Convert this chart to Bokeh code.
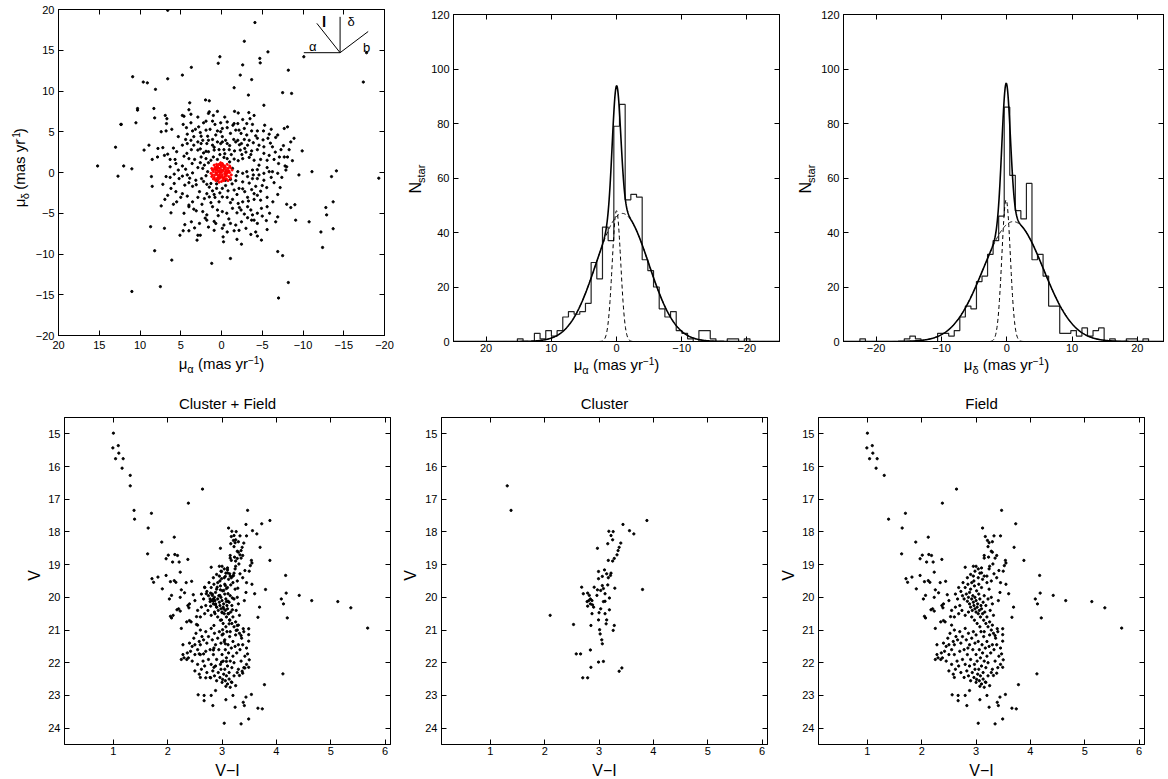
import numpy as np
from bokeh.plotting import figure
from bokeh.models import Range1d, LinearAxis, FixedTicker, Label, CustomJSTickFormatter
from bokeh.layouts import row, column
from bokeh.embed import file_html
from bokeh.resources import INLINE
from bokeh.core.properties import value

FONT = "Liberation Sans"

# ---------------- Vector point diagram (mu_alpha, mu_delta) ----------------
vpd_field = [
    (6.6, 19.9), (-4.1, 18.4), (-2.8, 16.1), (-5.7, 14.8), (0.2, 14.2), (-4.7, 14.0), (-10.1, 14.2),
    (-17.8, 14.7), (-17.4, 11.1), (15.2, 0.8), (13.0, 3.1), (12.7, -0.45), (12.3, 5.9), (-14.1, 0.2),
    (-13.5, -0.5), (-13.7, -3.6), (-13.7, -6.9), (-19.3, -0.7), (-7.0, -15.4), (11.0, -14.6),
    (3.7, 12.9), (0.4, 13.4), (-2.6, 13.2), (-4.75, 13.45), (4.8, 11.95), (6.6, 11.5), (10.9, 11.75),
    (9.6, 11.1), (9.1, 11.0), (-2.3, 11.95), (-3.7, 11.4), (-8.2, 12.55),
    (8.1, 10.2), (-1.55, 10.4), (-3.3, 9.5), (-7.5, 9.8), (-8.6, 9.7), (3.9, 8.55), (1.96, 8.9),
    (1.5, 8.8), (-5.2, 8.25),
    (10.3, 7.85), (10.3, 7.65), (8.3, 7.85), (4.0, 7.7), (1.5, 7.45), (0.5, 7.5), (-1.6, 7.5),
    (-2.05, 7.3), (-3.35, 7.35), (-4.0, 7.0), (6.9, 7.0), (6.7, 6.6), (4.8, 7.0), (4.6, 6.9),
    (3.75, 7.15), (2.9, 6.8), (1.6, 7.25),
    (8.2, 6.7), (6.75, 6.0), (4.7, 5.9), (3.75, 6.1), (2.8, 5.6), (1.9, 6.3), (1.1, 6.3), (0.8, 5.9),
    (0.1, 6.1), (-0.7, 6.2), (-1.55, 6.0), (-2.0, 6.0), (-3.1, 6.0), (-3.8, 5.9), (10.5, 6.1), (12.35, 5.9),
    (7.4, 5.0), (6.8, 5.1), (6.1, 5.3), (4.2, 4.7), (3.55, 5.1), (2.6, 4.9), (1.9, 5.2), (1.4, 5.3),
    (0.5, 5.1), (-0.1, 5.4), (-0.7, 5.5), (-1.75, 5.2), (-2.15, 5.2), (-2.8, 5.4), (-3.7, 5.1),
    (-4.4, 5.1), (-5.15, 5.1), (-5.85, 4.7), (-6.1, 5.3), (-7.7, 5.4), (-8.1, 5.6), (2.5, 4.45),
    (1.7, 4.45), (0.7, 4.6), (0.1, 5.0), (-1.1, 4.8), (-2.4, 4.8), (-3.1, 4.6),
    (-8.9, 4.2), (-6.65, 4.3), (-5.7, 4.2), (-4.4, 4.2), (-3.4, 3.95), (-2.8, 4.05), (-2.0, 3.95),
    (-1.5, 4.05), (-0.5, 3.95), (-0.1, 3.75), (0.5, 3.75), (1.1, 4.05), (1.6, 3.95), (2.3, 3.95),
    (2.9, 3.75), (3.75, 3.95), (4.4, 4.05), (4.8, 3.35), (4.2, 3.55), (3.4, 3.35), (2.5, 3.55),
    (1.8, 3.55), (1.1, 3.35), (0.1, 3.55), (-0.7, 3.55), (-1.75, 3.75), (-2.45, 3.55), (-3.2, 3.35),
    (-3.9, 3.65), (-4.6, 3.35), (-5.2, 3.15), (-6.25, 3.15), (-8.5, 3.75), (7.8, 2.95), (7.2, 3.05),
    (8.9, 3.35), (9.5, 2.75),
    (-8.3, 2.8), (-7.3, 2.8), (-7.1, 1.9), (-5.85, 2.1), (-5.2, 2.35), (-4.4, 2.8), (-3.7, 2.65),
    (-2.85, 2.95), (-2.3, 2.75), (-1.6, 2.65), (-0.95, 2.8), (-0.3, 2.8), (0.3, 2.8), (0.9, 2.75),
    (1.6, 2.55), (2.2, 2.4), (2.9, 2.75), (3.7, 2.8), (4.25, 2.35), (4.6, 2.0), (5.5, 2.55), (7.0, 2.1),
    (6.6, 2.25), (8.5, 1.6), (-9.9, 2.65), (-8.1, 1.9), (-7.7, 1.9), (-8.7, 1.45),
    (-6.45, 1.6), (-5.6, 1.5), (-4.8, 1.6), (-4.0, 1.5), (-3.4, 1.85), (-2.6, 1.7), (-2.05, 1.45),
    (-1.55, 1.65), (-0.7, 1.7), (-0.3, 1.85), (0.5, 1.6), (1.3, 1.5), (1.9, 1.7), (2.5, 1.9), (3.3, 1.6),
    (4.0, 1.7), (4.8, 0.8), (5.7, 1.6), (5.6, 1.1), (6.3, 0.7), (7.85, 1.9), (12.0, 0.8), (11.0, 0.45),
    (-8.0, 0.7), (-7.8, 0.8),
    (-5.85, 0.1), (-5.2, -0.1), (-4.6, -0.3), (-4.4, 0.35), (-3.8, 0.3), (-3.1, 0.1), (-2.6, -0.1),
    (-2.0, 0.1), (-1.35, 0.5), (1.7, 0.1), (2.3, 0.5), (2.9, 0.6), (3.55, -0.05), (4.2, -0.3),
    (4.8, -0.45), (5.8, -0.2), (6.3, -0.6), (8.6, -0.5), (-6.25, 0.1), (-6.9, -0.1), (-11.1, 0.1),
    (-9.5, -0.3),
    (-5.2, -0.95), (-4.4, -0.75), (-3.8, -0.75), (-3.2, -0.5), (-2.6, -1.15), (-1.75, -1.0),
    (-1.1, -0.85), (-0.5, -0.95), (0.5, -0.95), (1.3, -1.35), (1.8, -1.45), (2.45, -0.75), (3.15, -0.95),
    (4.0, -1.25), (4.5, -1.55), (5.2, -0.75), (5.8, -1.35), (7.2, -1.45), (8.5, -1.7), (-6.45, -1.25),
    (-7.2, -1.85),
    (-5.55, -1.85), (-4.8, -2.3), (-4.2, -1.7), (-3.7, -2.1), (-2.85, -2.35), (-2.15, -1.95),
    (-1.55, -2.15), (-0.8, -2.25), (-0.1, -1.95), (0.6, -1.95), (1.1, -2.25), (1.8, -2.6), (2.7, -2.35),
    (3.55, -1.7), (4.2, -2.9), (4.8, -2.6), (5.6, -2.35), (6.2, -1.95), (6.95, -3.3), (7.4, -4.1),
    (-4.4, -2.8),
    (-5.6, -3.05), (-4.8, -3.4), (-4.0, -3.3), (-3.2, -3.05), (-2.6, -3.6), (-2.05, -3.8), (-1.35, -3.3),
    (-0.7, -3.05), (-0.1, -3.0), (0.8, -3.05), (1.5, -3.0), (2.1, -3.2), (2.9, -3.05), (3.55, -3.6),
    (4.0, -4.0), (5.0, -3.05), (5.5, -3.6), (-5.6, -4.2), (-8.0, -3.9), (-8.5, -4.3), (-9.0, -3.95),
    (-6.9, -5.45), (-5.0, -5.35), (-4.4, -5.0), (-3.8, -5.2), (-3.2, -4.2), (-2.4, -4.6), (-1.9, -4.95),
    (-1.35, -4.4), (-0.65, -5.0), (-0.1, -4.8), (0.5, -4.6), (1.1, -4.2), (1.8, -5.2), (2.3, -4.8),
    (3.4, -4.5), (4.0, -4.2), (6.2, -4.95), (-12.8, -4.3), (-12.9, -5.2),
    (-6.65, -6.05), (-4.4, -6.25), (-4.0, -5.85), (-3.2, -5.55), (-2.45, -6.05), (-1.75, -6.45),
    (-1.1, -6.25), (-0.3, -6.45), (0.7, -6.25), (0.9, -6.0), (1.8, -5.85), (2.7, -6.25), (3.7, -6.05),
    (8.7, -6.65), (7.0, -6.85), (-9.1, -5.85), (-10.75, -6.05), (-3.7, -5.85),
    (-4.2, -7.3), (-3.0, -6.85), (-2.15, -7.1), (-1.55, -7.15), (-0.7, -7.3), (-0.1, -6.85), (0.9, -7.1),
    (2.9, -7.7), (4.0, -7.15), (4.7, -7.15), (5.1, -7.7), (2.6, -7.7), (-12.2, -7.3),
    (-4.9, -8.3), (-4.4, -7.8), (-2.45, -8.8), (-0.25, -8.5), (3.0, -8.3), (8.2, -9.6), (-6.9, -9.7),
    (-7.5, -10.2), (-12.4, -9.2),
    (6.1, -10.75), (1.2, -11.15), (-1.1, -10.55), (-8.2, -13.5), (7.5, -14.0),
    (-0.4, 2.3), (0.2, 2.2), (1.0, 1.9), (1.6, 1.2), (2.1, 0.9), (2.6, 1.2), (3.6, 1.1), (4.4, 0.4),
    (3.9, -0.7), (3.1, -1.5), (2.2, -1.1), (1.5, -1.8), (0.9, -2.7), (0.2, -2.5), (-0.5, -1.6),
    (-1.3, -1.4), (-1.9, -2.7), (-2.6, -2.0), (-3.4, -1.3), (-3.9, -0.3), (-4.6, 0.9), (-3.6, 2.2),
    (-2.5, 2.2), (-1.2, 2.2), (-1.0, 3.3), (-2.2, 3.4), (-3.0, 2.5), (-4.2, 4.5), (-5.1, 4.0),
    (-6.0, 3.6), (-6.6, 2.5), (-5.6, 0.6), (-6.1, -0.6), (-5.0, -1.6), (-4.0, -2.6), (-3.3, -3.5),
    (-2.2, -4.3), (-1.1, -3.7), (0.3, -3.6), (1.3, -3.7), (2.4, -3.9), (3.1, -4.7), (2.0, -5.6),
    (0.4, -5.3), (-0.9, -5.7), (-2.8, -5.1), (-3.6, -4.6), (-4.9, -4.4), (-5.9, -5.0), (-6.3, -3.6),
    (-6.9, -2.7), (-7.4, -0.6), (-7.9, 0.3), (-7.0, 1.1), (-7.6, 3.3), (-6.9, 4.6), (-5.3, 5.8),
    (-3.5, 6.6), (-2.6, 6.5), (-0.4, 6.8), (1.0, 7.0), (2.2, 6.1), (3.2, 5.3), (4.3, 5.5), (5.3, 4.4),
    (5.9, 3.0), (6.3, 1.6), (5.3, 0.3), (6.8, -0.5), (6.6, -2.8), (5.9, -3.9), (4.6, -5.0), (4.5, -6.4),
    (3.3, -6.8), (1.6, -6.7), (-0.2, -7.9), (-1.9, -8.2), (-3.6, -7.6), (-5.6, -7.0), (-5.5, -5.9),
    (0.9, 3.1), (1.9, 2.6), (2.6, 2.9), (3.4, 4.4), (-0.1, 4.4), (-1.4, 5.8), (0.6, -1.4), (-1.0, 1.3),
    (1.9, -0.4), (-1.8, -0.4),
]
vpd_cluster = [
    (0.0, 0.0), (0.3, 0.2), (-0.3, 0.4), (0.5, -0.3), (-0.5, -0.2), (0.8, 0.6), (-0.8, 0.5), (0.2, -0.7),
    (-0.2, 0.9), (0.6, 1.0), (-0.6, -0.8), (1.0, 0.1), (-1.0, 0.0), (0.9, -0.6), (-0.9, -0.5), (0.4, 0.6),
    (-0.4, -0.5), (0.1, 1.2), (0.0, -1.1), (0.7, -1.0), (-0.7, 1.0), (1.2, 0.5), (-1.1, 0.6), (1.1, -0.3),
    (-1.2, -0.3), (0.3, -1.2), (-0.3, -1.0), (0.5, 0.3), (-0.5, 0.1), (0.2, 0.5), (-0.1, -0.3), (0.6, -0.1),
    (-0.6, 0.3), (0.4, -0.6), (-0.2, 0.2), (0.9, 0.9), (-0.8, -1.0), (1.3, -0.1), (0.0, 0.7), (0.2, -0.2),
    (-0.4, 0.8), (0.7, 0.3), (-0.9, 0.2), (0.5, 0.8), (-0.3, -0.7), (0.1, -0.5), (0.8, -0.3), (-0.6, -0.4),
    (0.3, 1.0), (-0.1, 1.1), (1.0, -0.8), (-1.0, 0.8), (0.6, 0.5), (-0.2, -0.9), (0.4, -0.9), (-0.7, -0.1),
    (1.1, 0.3), (-1.1, -0.7), (0.0, 0.3), (0.3, -0.4), (-0.5, 0.6), (0.7, 0.0), (0.9, 0.4), (-0.4, -0.1),
    (0.1, 0.9), (0.5, -0.7), (-0.8, 0.1), (0.2, 0.1), (-0.1, -0.6), (0.6, 0.7), (-0.3, 0.6), (0.8, -0.8),
    (1.2, -0.5), (-1.3, 0.3), (0.4, 0.1),
]
# orientation sketch (galactic l, b and equatorial alpha, delta directions)
compass_origin = (-14.55, 14.7)
compass_end_ra = [-10.1, -14.55, -11.7, -18.0]
compass_end_dec = [14.7, 19.1, 18.3, 17.3]
compass_text = ["α", "δ", "b"]
compass_text_ra = [-11.2, -15.9, -17.8]
compass_text_dec = [15.5, 18.5, 15.3]
compass_l_pos = (-12.6, 18.5)

# ---------------- Histograms ----------------
mua_edges = [-20.47, -19.60, -18.73, -17.86, -16.99, -16.12, -15.25, -14.38, -13.51, -12.64, -11.77,
             -10.90, -10.03, -9.16, -8.29, -7.42, -6.55, -5.68, -4.81, -3.94, -3.07, -2.20, -1.33, -0.46,
             0.41, 1.28, 2.15, 3.02, 3.89, 4.76, 5.63, 6.50, 7.37, 8.24, 9.11, 9.98, 10.85, 11.72, 12.59,
             13.46, 14.33, 15.20]
mua_counts = [1, 0, 1, 1, 0, 0, 1, 4, 4, 0, 1, 3, 4, 11, 9, 12, 20, 26, 30, 53, 54, 52, 87, 79, 37, 42,
              23, 29, 14, 11, 10, 11, 9, 4, 2, 4, 1, 3, 0, 0, 1]
mud_edges = [-22.49, -21.64, -20.79, -19.94, -19.09, -18.24, -17.39, -16.54, -15.69, -14.84, -13.99,
             -13.14, -12.29, -11.44, -10.59, -9.74, -8.89, -8.04, -7.19, -6.34, -5.49, -4.64, -3.79, -2.94,
             -2.09, -1.24, -0.39, 0.46, 1.31, 2.16, 3.01, 3.86, 4.71, 5.56, 6.41, 7.26, 8.11, 8.96, 9.81,
             10.66, 11.51, 12.36, 13.21, 14.06, 14.91, 15.76, 16.61, 17.46, 18.31, 19.16, 20.01, 20.86, 21.71]
mud_counts = [1, 0, 0, 0, 0, 0, 0, 0, 1, 2, 1, 0, 0, 0, 3, 3, 2, 4, 9, 13, 12, 22, 24, 32, 37, 46, 86,
              61, 48, 45, 58, 30, 32, 24, 13, 13, 3, 3, 4, 2, 5, 2, 4, 5, 0, 1, 0, 0, 1, 1, 0, 1]
# two-Gaussian fits: (amplitude, centre, sigma)
mua_fit_cluster = (48.0, 0.0, 0.65)
mua_fit_field = (47.0, -0.9, 4.05)
mud_fit_cluster = (52.0, -0.1, 0.65)
mud_fit_field = (44.0, 1.0, 4.6)

# ---------------- Colour-magnitude diagrams (V-I, V) ----------------
cmd_field = [
    (1.00, 14.98), (0.99, 15.43), (1.09, 15.36), (1.10, 15.59), (1.04, 15.76), (1.18, 15.76), (1.16, 16.05),
    (1.31, 16.27), (2.64, 16.69), (2.38, 17.12), (3.47, 17.34), (1.70, 17.43), (1.39, 17.61), (1.64, 17.88),
    (3.12, 17.88), (3.73, 17.75), (3.17, 18.14), (3.33, 18.12), (3.45, 18.12), (2.12, 18.16), (3.21, 18.26),
    (3.24, 18.33), (1.89, 18.31), (3.70, 18.47), (3.28, 18.59), (3.30, 18.62), (1.63, 18.67), (2.01, 18.71),
    (2.13, 18.69), (2.18, 18.72), (3.15, 18.72), (3.23, 18.77), (3.38, 18.72), (2.37, 18.84), (1.97, 18.82),
    (2.09, 18.92), (2.21, 18.92), (3.54, 18.87), (3.88, 18.87), (3.52, 19.03), (2.23, 19.23), (2.80, 19.08),
    (2.95, 19.05), (3.04, 19.13), (3.07, 19.26), (3.24, 19.13), (3.31, 18.98), (3.42, 19.18), (3.33, 19.28),
    (1.71, 19.43), (1.74, 19.54), (1.82, 19.38), (1.97, 19.33), (2.05, 19.52), (2.12, 19.49), (2.15, 19.54),
    (2.34, 19.55), (2.44, 19.51), (1.90, 19.74), (2.03, 20.05), (2.07, 19.94), (2.23, 20.0), (2.25, 19.77),
    (2.31, 19.86), (2.47, 19.92), (2.50, 20.1), (2.37, 20.25), (2.39, 20.32), (2.17, 20.38), (2.23, 20.42),
    (2.07, 20.63), (2.40, 20.71), (2.53, 20.59),
    (3.44, 19.85), (3.60, 19.89), (3.41, 20.1), (3.66, 20.61), (3.69, 20.3), (4.09, 20.05), (4.13, 20.2),
    (4.17, 19.33), (4.18, 19.87), (4.20, 20.63), (4.42, 19.94), (4.65, 20.1), (5.13, 20.13), (5.37, 20.32),
    (5.68, 20.94), (4.12, 22.34), (3.78, 22.67),
    (3.54, 22.97), (3.44, 23.05), (3.39, 23.21), (3.41, 23.31), (3.66, 23.39), (3.74, 23.41), (3.49, 23.72),
    (3.35, 23.87), (3.04, 23.85), (2.83, 23.31), (2.80, 23.0), (2.67, 23.0), (2.56, 22.98), (2.67, 23.16),
    (2.88, 22.85), (3.20, 23.0), (3.07, 23.13), (3.24, 23.36), (3.07, 22.72), (3.01, 22.51), (3.17, 22.59),
    (3.32, 22.39), (3.38, 22.32), (3.49, 22.14), (3.50, 21.91), (3.47, 21.73), (3.49, 21.34), (3.49, 21.14),
    (3.49, 20.96), (3.39, 20.96), (3.35, 21.17),
    (2.72, 19.82), (2.75, 19.95), (2.78, 20.05), (2.80, 19.7), (2.82, 19.9), (2.84, 20.12), (2.85, 19.6),
    (2.86, 20.0), (2.88, 20.2), (2.88, 19.85), (2.90, 20.3), (2.90, 19.75), (2.92, 20.05), (2.93, 20.4),
    (2.94, 19.95), (2.95, 20.15), (2.96, 20.25), (2.97, 19.65), (2.98, 20.35), (2.98, 20.0), (3.00, 20.1),
    (3.00, 20.45), (3.01, 19.8), (3.02, 20.3), (3.03, 20.2), (3.04, 20.5), (3.05, 19.9), (3.06, 20.4),
    (3.07, 20.05), (3.08, 20.6), (3.09, 20.25), (3.10, 19.7), (3.10, 20.35), (3.12, 20.5), (3.13, 20.15),
    (3.14, 20.7), (3.15, 19.95), (3.16, 20.45), (3.18, 20.8), (3.18, 20.25), (3.20, 20.6), (3.22, 20.9),
    (3.22, 20.05), (3.25, 20.75), (3.26, 20.4), (2.92, 19.55), (2.96, 19.5), (3.05, 19.6), (3.12, 19.45),
    (2.70, 20.25), (2.74, 20.4), (2.80, 20.55), (2.86, 20.45), (2.92, 20.6), (2.97, 20.7), (3.02, 20.8),
    (3.07, 20.9), (2.66, 20.05), (2.62, 19.9), (2.68, 19.7), (2.76, 19.55), (2.84, 19.4), (2.90, 19.3),
    (2.98, 19.2), (3.04, 19.4), (3.10, 19.25), (3.15, 19.35), (3.20, 19.55), (3.24, 19.75), (3.28, 20.0),
    (3.30, 20.2), (3.32, 20.55), (3.30, 20.85), (3.28, 21.0),
    (2.55, 20.85), (2.60, 21.0), (2.63, 21.2), (2.58, 21.35), (2.52, 21.1), (2.48, 21.25), (2.45, 21.5),
    (2.42, 21.65), (2.38, 21.85), (2.35, 21.9), (2.45, 21.95), (2.50, 21.75), (2.55, 21.6), (2.60, 21.45),
    (2.66, 21.3), (2.70, 21.05), (2.72, 21.4), (2.75, 21.2), (2.78, 21.6), (2.80, 20.95), (2.82, 21.3),
    (2.84, 21.75), (2.86, 21.1), (2.88, 21.45), (2.90, 21.9), (2.92, 21.25), (2.94, 21.6), (2.95, 21.05),
    (2.97, 22.05), (2.98, 21.4), (3.00, 21.75), (3.00, 21.15), (3.02, 21.95), (3.04, 21.35), (3.05, 22.2),
    (3.06, 21.6), (3.08, 21.85), (3.09, 21.05), (3.10, 22.1), (3.11, 21.45), (3.12, 21.7), (3.13, 22.3),
    (3.14, 21.2), (3.15, 21.95), (3.17, 21.55), (3.18, 22.15), (3.20, 21.35), (3.20, 21.8), (3.22, 22.0),
    (3.24, 21.5), (3.25, 21.15), (3.27, 21.7), (3.30, 21.45), (3.33, 21.6), (3.36, 21.25), (3.38, 21.45),
    (3.40, 21.05), (3.42, 21.8), (3.45, 21.55), (3.35, 21.95), (3.40, 22.15), (3.45, 22.05), (2.60, 21.75),
    (2.65, 21.95), (2.62, 22.2), (2.58, 22.35), (2.60, 22.45), (2.68, 22.1), (2.72, 22.3), (2.75, 21.9),
    (2.78, 22.45), (2.80, 22.05), (2.83, 22.25), (2.86, 22.4), (2.88, 22.1), (2.90, 22.55), (2.93, 22.3),
    (2.96, 22.45), (2.98, 22.2), (3.00, 22.6), (3.03, 22.35), (3.06, 22.55), (3.08, 22.4), (3.10, 22.65),
    (3.13, 22.5), (3.15, 22.75), (3.18, 22.6), (3.22, 22.4), (3.25, 22.7), (3.28, 22.3), (3.30, 22.2),
    (3.32, 21.1), (3.15, 21.05), (2.85, 21.55), (2.70, 21.65), (2.50, 21.45), (2.40, 21.4), (2.36, 21.7),
    (2.30, 21.85), (2.55, 22.05), (2.50, 22.25), (2.25, 21.9), (2.28, 21.75),
    (2.20, 20.35), (2.35, 20.75), (2.43, 20.75), (2.25, 20.95), (2.28, 21.45), (2.40, 20.2), (2.55, 20.4),
    (2.60, 20.6), (2.05, 20.58), (2.62, 20.3), (2.68, 20.5),
    (3.15, 18.80), (3.25, 19.05), (3.35, 18.80), (3.10, 19.10), (3.20, 19.35), (3.28, 19.50), (3.38, 19.40),
    (3.50, 19.20), (3.55, 18.95), (3.45, 19.55), (3.55, 19.60), (3.00, 19.05), (2.95, 19.35), (3.22, 18.45),
    (3.30, 18.30),
]
cmd_cluster = [
    (1.31, 16.59), (1.38, 17.34), (3.88, 17.65), (3.44, 17.77), (3.56, 17.96), (3.64, 18.06), (3.18, 17.98),
    (3.26, 17.99), (3.22, 18.11), (3.25, 18.24), (3.40, 18.34), (3.37, 18.47), (3.35, 18.57), (3.16, 18.36),
    (2.97, 18.50), (3.33, 18.70), (3.28, 18.81), (3.25, 18.89), (3.17, 18.87), (2.99, 19.21), (3.10, 19.16),
    (3.14, 19.28), (3.22, 19.26), (3.21, 19.33), (3.06, 19.36), (3.17, 19.40), (2.99, 19.43), (2.91, 19.69),
    (2.68, 19.69), (2.97, 19.77), (3.06, 19.64), (3.08, 19.73), (3.16, 19.62), (3.29, 19.72), (3.03, 19.79),
    (3.11, 19.89), (3.80, 19.76), (2.71, 19.89), (2.79, 19.87), (2.82, 19.94), (2.96, 19.94), (2.84, 20.05),
    (2.81, 20.10), (2.87, 20.10), (2.78, 20.13), (2.84, 20.20), (2.88, 20.23), (2.79, 20.27), (2.90, 20.30),
    (3.19, 20.02), (3.11, 20.12), (3.08, 20.13), (3.03, 20.35), (3.19, 20.38), (3.00, 20.47), (2.87, 20.50),
    (3.11, 20.50), (2.99, 20.69), (3.14, 20.69), (3.13, 20.81), (2.85, 20.86), (3.28, 20.86), (3.26, 21.01),
    (3.01, 20.99), (3.02, 21.12), (3.05, 21.30), (3.06, 21.42), (2.53, 20.83), (2.10, 20.55), (2.84, 21.61),
    (2.58, 21.73), (2.66, 21.73), (2.99, 21.98), (3.08, 21.96), (2.85, 22.14), (3.42, 22.16), (3.37, 22.26),
    (2.70, 22.46), (2.79, 22.46),
]

# ---------------- tick values ----------------
vpd_ticks = [-20, -15, -10, -5, 0, 5, 10, 15, 20]
hist_xticks = [-20, -10, 0, 10, 20]
hist_yticks = [0, 20, 40, 60, 80, 100, 120]
cmd_xticks = [1, 2, 3, 4, 5, 6]
cmd_yticks = [15, 16, 17, 18, 19, 20, 21, 22, 23, 24]

# ======================================================================
CW = {' ': 0.278, '(': 0.333, ')': 0.333, 'm': 0.833, 'a': 0.556, 's': 0.5, 'y': 0.5, 'r': 0.333,
      '−': 0.584, '1': 0.556, 'μ': 0.576, 'α': 0.59, 'δ': 0.556, 'N': 0.722, 't': 0.278, 'V': 0.667,
      'I': 0.278}
BASE_SHIFT = 0.32   # empirical raise (in em) so that the drawn baseline lands where intended


def tw(s, size):
    return sum(CW.get(c, 0.55) for c in s) * size


FMT = CustomJSTickFormatter(code="return tick < 0 ? '\\u2212' + Math.abs(tick) : String(tick);")


def make_fig(w, h, bl, br, bt, bb, xr, yr):
    p = figure(width=w, height=h, x_range=Range1d(*xr), y_range=Range1d(*yr),
               output_backend="svg", toolbar_location=None,
               min_border_left=bl, min_border_right=br, min_border_top=bt, min_border_bottom=bb,
               background_fill_color="white", border_fill_color="white")
    p.grid.visible = False
    p.outline_line_color = "black"
    p.outline_line_width = 1
    return p


def style_axes(p, xticks, yticks, xstand=3):
    for ax, ticks, st in ((p.xaxis[0], xticks, xstand), (p.yaxis[0], yticks, 4)):
        ax.ticker = FixedTicker(ticks=ticks)
        ax.formatter = FMT
        ax.major_tick_in = 5
        ax.major_tick_out = 0
        ax.minor_tick_line_color = None
        ax.axis_line_color = "black"
        ax.major_tick_line_color = "black"
        ax.major_label_text_font = FONT
        ax.major_label_text_font_size = "11px"
        ax.major_label_text_color = "black"
        ax.major_label_standoff = st
    for side, ticks in (("above", xticks), ("right", yticks)):
        ax = LinearAxis(ticker=FixedTicker(ticks=ticks), major_tick_in=5, major_tick_out=0,
                        minor_tick_line_color=None, major_label_text_color=None,
                        major_label_text_font_size="1px", major_label_standoff=0,
                        axis_line_color="black", major_tick_line_color="black")
        p.add_layout(ax, side)


# --- figures that only carry text (so the text is not clipped by a plot frame) ---
def label_fig(gx0, gy0, w, h):
    f = figure(width=w, height=h, x_range=Range1d(0, w), y_range=Range1d(h, 0), min_border=0,
               toolbar_location=None, output_backend="svg", x_axis_location=None, y_axis_location=None,
               background_fill_color="white", border_fill_color="white")
    f.grid.visible = False
    f.outline_line_color = None
    return (f, gx0, gy0)


def put(lf, gx, gy, text, size, angle=0.0, align="left"):
    f, gx0, gy0 = lf
    if angle == 0.0:
        gy = gy - BASE_SHIFT * size
    else:
        gx = gx - BASE_SHIFT * size
    f.add_layout(Label(x=gx - gx0, y=gy - gy0, text=text, text_font=FONT, text_font_size=f"{size}px",
                       text_align=align, text_baseline="alphabetic", angle=angle, text_color="black"))


def hlabel(lf, pieces, cx, base_y):
    total = sum(tw(t, s) + g for t, s, d, g in pieces)
    x = cx - total / 2
    for t, s, d, g in pieces:
        x += g
        put(lf, x, base_y - d, t, s)
        x += tw(t, s)


def vlabel(lf, pieces, base_x, cy):
    total = sum(tw(t, s) + g for t, s, d, g in pieces)
    y = cy + total / 2
    for t, s, d, g in pieces:
        y -= g
        put(lf, base_x - d, y, t, s, angle=np.pi / 2)
        y -= tw(t, s)


def pm_pieces(greek):
    return [("μ", 15, 0, 0), (greek, 11, -4, 0), ("(mas yr", 15, 0, 4.2), ("−1", 10, 5, 0), (")", 15, 0, 0)]


NSTAR = [("N", 16, 0, 0), ("star", 11, -4, 0)]
VLAB = [("V", 16, 0, 0)]


def stairs(edges, counts):
    xs, ys = [edges[0]], [0]
    for i, c in enumerate(counts):
        xs += [edges[i], edges[i + 1]]
        ys += [c, c]
    xs.append(edges[-1])
    ys.append(0)
    return xs, ys


def gauss(x, par):
    a, m, s = par
    return a * np.exp(-0.5 * ((x - m) / s) ** 2)


xg = np.linspace(-25, 25, 801)

# ---------------- Cell 1: vector point diagram ----------------
p1 = make_fig(368, 354, 26, 16, 9, 19, (20, -20), (-20, 20))
style_axes(p1, vpd_ticks, vpd_ticks, xstand=5)
p1.scatter([q[0] for q in vpd_field], [q[1] for q in vpd_field], size=2.3, color="black")
p1.scatter([q[0] for q in vpd_cluster], [q[1] for q in vpd_cluster], size=2.1, color="red")
n = len(compass_end_ra)
p1.segment(x0=[compass_origin[0]] * n, y0=[compass_origin[1]] * n, x1=compass_end_ra, y1=compass_end_dec,
           line_color="black", line_width=1)
p1.text(x=compass_text_ra, y=compass_text_dec, text=compass_text, text_font=value(FONT),
        text_font_size=value("13px"), text_align="center", text_baseline="middle", text_color="black")
p1.text(x=[compass_l_pos[0]], y=[compass_l_pos[1]], text=["l"], text_font=value(FONT),
        text_font_size=value("15px"), text_font_style="bold", text_align="center", text_baseline="middle",
        text_color="black")
yl1 = label_fig(0, 0, 32, 354)
vlabel(yl1, pm_pieces("δ"), 24, 172)
xl1 = label_fig(0, 354, 400, 22)
hlabel(xl1, pm_pieces("α"), 221, 368)
cell1 = column(row(yl1[0], p1), xl1[0])

# ---------------- Cell 2: mu_alpha histogram ----------------
p2 = make_fig(362, 356, 25, 11, 14, 15, (25, -25), (0, 120))
style_axes(p2, hist_xticks, hist_yticks, xstand=2)
xs, ys = stairs(mua_edges, mua_counts)
p2.line(xs, ys, line_color="#222222", line_width=1.2)
p2.line(xg, gauss(xg, mua_fit_cluster), line_color="black", line_width=1, line_dash="4 3")
p2.line(xg, gauss(xg, mua_fit_field), line_color="black", line_width=1, line_dash="4 3")
p2.line(xg, gauss(xg, mua_fit_cluster) + gauss(xg, mua_fit_field), line_color="black", line_width=1.6)
yl2 = label_fig(400, 0, 28, 356)
vlabel(yl2, NSTAR, 420, 180)
xl2 = label_fig(400, 356, 390, 20)
hlabel(xl2, pm_pieces("α"), 616, 369)
cell2 = column(row(yl2[0], p2), xl2[0])

# ---------------- Cell 3: mu_delta histogram ----------------
p3 = make_fig(350, 356, 25, 5, 14, 15, (-25, 24.0), (0, 120))
style_axes(p3, hist_xticks, hist_yticks, xstand=2)
xs, ys = stairs(mud_edges, mud_counts)
p3.line(xs, ys, line_color="#222222", line_width=1.2)
p3.line(xg, gauss(xg, mud_fit_cluster), line_color="black", line_width=1, line_dash="4 3")
p3.line(xg, gauss(xg, mud_fit_field), line_color="black", line_width=1, line_dash="4 3")
p3.line(xg, gauss(xg, mud_fit_cluster) + gauss(xg, mud_fit_field), line_color="black", line_width=1.6)
yl3 = label_fig(790, 0, 28, 356)
vlabel(yl3, NSTAR, 810, 180)
xl3 = label_fig(790, 356, 378, 20)
hlabel(xl3, pm_pieces("δ"), 1006, 369)
cell3 = column(row(yl3[0], p3), xl3[0])


# ---------------- CMD cells ----------------
def cmd_cell(gx0, ylw, pw, br, pts_list, title, vx):
    cw = ylw + pw
    p = make_fig(pw, 347, 20, br, 5, 15, (0.1, 6.1), (24.5, 14.5))
    style_axes(p, cmd_xticks, cmd_yticks, xstand=2)
    xs_, ys_ = [], []
    for pts in pts_list:
        xs_ += [q[0] for q in pts]
        ys_ += [q[1] for q in pts]
    p.scatter(xs_, ys_, size=2.3, color="black")
    fx = gx0 + ylw + 20 + 163
    tl = label_fig(gx0, 376, cw, 36)
    put(tl, fx, 408, title, 15, align="center")
    yl = label_fig(gx0, 412, ylw, 347)
    vlabel(yl, VLAB, vx, 580)
    xl = label_fig(gx0, 759, cw, 20)
    put(xl, fx, 775, "V−I", 16, align="center")
    return column(tl[0], row(yl[0], p), xl[0])


cell4 = cmd_cell(0, 44, 351, 5, [cmd_field, cmd_cluster], "Cluster + Field", 39)
cell5 = cmd_cell(395, 26, 352, 6, [cmd_cluster], "Cluster", 415)
cell6 = cmd_cell(773, 25, 370, 24, [cmd_field], "Field", 793)

layout = column(row(cell1, cell2, cell3), row(cell4, cell5, cell6))
open("out.html", "w").write(file_html(layout, INLINE))
